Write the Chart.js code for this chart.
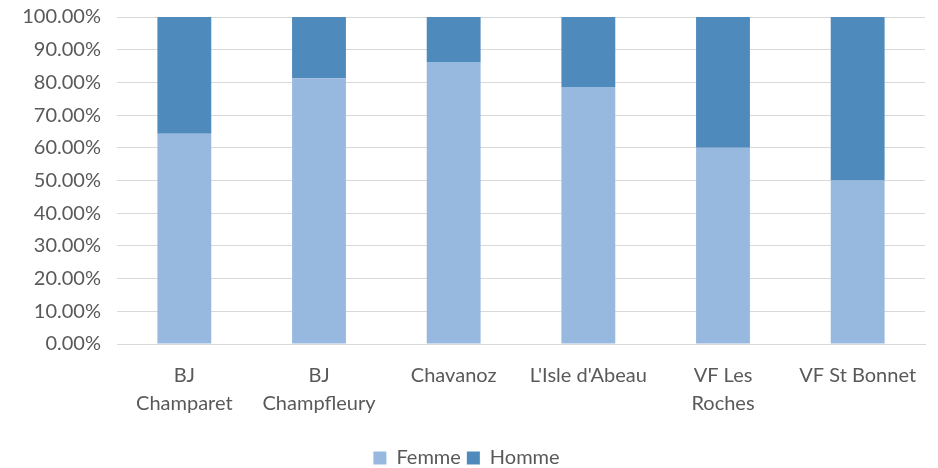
<!DOCTYPE html>
<html>
<head>
<meta charset="utf-8">
<script src="https://cdn.jsdelivr.net/npm/chart.js@4/dist/chart.umd.min.js"></script>
<style>
  html, body { margin: 0; padding: 0; background: #ffffff; }
  #wrap { width: 938px; height: 468px; position: relative; }
</style>
</head>
<body>
<div id="wrap"><canvas id="genderChart"></canvas></div>
<script>
// Categories (multi-line labels as on the original)
const sites = [
    ['BJ', 'Champaret'],
    ['BJ', 'Champfleury'],
    'Chavanoz',
    "L'Isle d'Abeau",
    ['VF Les', 'Roches'],
    'VF St Bonnet'
];

// Share of women / men per site, in percent
const femme = [64.29, 81.25, 86.21, 78.57, 60.0, 50.0];
const homme = [35.71, 18.75, 13.79, 21.43, 40.0, 50.0];

const textColor = '#595959';
const fontFamily = 'Lato, "Open Sans", sans-serif';

const ctx = document.getElementById('genderChart').getContext('2d');
new Chart(ctx, {
    type: 'bar',
    data: {
        labels: sites,
        datasets: [{
            label: 'Femme',
            data: femme,
            backgroundColor: '#98B9DF',
            borderWidth: 0,
            categoryPercentage: 1,
            barPercentage: 0.4
        }, {
            label: 'Homme',
            data: homme,
            backgroundColor: '#4F8ABD',
            borderWidth: 0,
            categoryPercentage: 1,
            barPercentage: 0.4
        }]
    },
    options: {
        responsive: true,
        maintainAspectRatio: false,
        animation: false,
        layout: {
            padding: { left: 8, right: 13, top: 17, bottom: -10 }
        },
        plugins: {
            legend: {
                position: 'bottom',
                labels: {
                    color: textColor,
                    font: { family: fontFamily, size: 20 },
                    boxWidth: 13,
                    boxHeight: 13,
                    padding: 6
                }
            },
            tooltip: { enabled: false }
        },
        scales: {
            x: {
                stacked: true,
                grid: { display: false, drawTicks: false },
                border: { color: '#D9D9D9', width: 1 },
                ticks: {
                    color: textColor,
                    font: { family: fontFamily, size: 20, lineHeight: 1.4 },
                    maxRotation: 0,
                    autoSkip: false,
                    padding: 18
                },
                afterFit: function(scale) { scale.height = 98; }
            },
            y: {
                stacked: true,
                min: 0,
                max: 100,
                grid: { color: '#D9D9D9', drawTicks: false },
                border: { display: false },
                ticks: {
                    stepSize: 10,
                    color: textColor,
                    font: { family: fontFamily, size: 20 },
                    padding: 16,
                    callback: function(value) {
                        return value.toFixed(2) + '%';
                    }
                },
                afterFit: function(scale) {
                    scale.width = 109;
                    scale.paddingTop = 0;
                    scale.paddingBottom = 0;
                }
            }
        }
    }
});
</script>
</body>
</html>
